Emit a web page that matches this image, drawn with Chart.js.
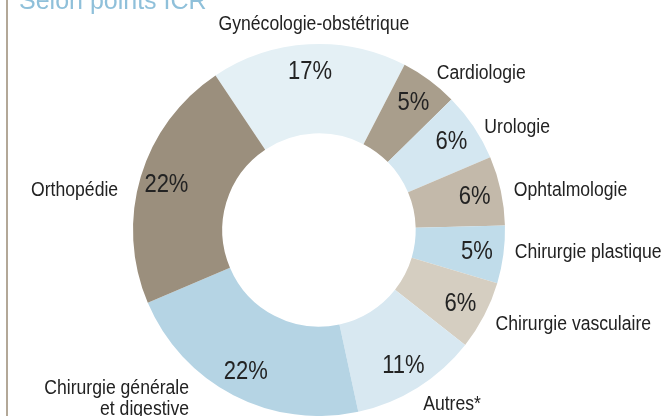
<!DOCTYPE html>
<html>
<head>
<meta charset="utf-8">
<script src="https://cdn.jsdelivr.net/npm/chart.js@4/dist/chart.umd.min.js"></script>
<style>
  html, body { margin: 0; padding: 0; background: #fff; overflow: hidden; }
  #wrap { position: relative; width: 665px; height: 416px; }
  #rule { position: absolute; left: 6px; top: 0; width: 2px; height: 416px; background: #b3a898; }
  canvas { position: absolute; left: 0; top: 0; }
</style>
</head>
<body>
<div id="wrap">
  <div id="rule"></div>
  <canvas id="c" width="665" height="416"></canvas>
</div>
<script>
// Data
const titleText = "Selon points ICR";
const categories = ["Gynécologie-obstétrique", "Cardiologie", "Urologie", "Ophtalmologie", "Chirurgie plastique", "Chirurgie vasculaire", "Autres*", "Chirurgie générale\net digestive", "Orthopédie"];
const values = [17, 5, 6, 6, 5, 6, 11, 22, 22];
const valueLabels = ["17%", "5%", "6%", "6%", "5%", "6%", "11%", "22%", "22%"];

// Styles
const colors = ["#e4f0f5", "#a99e8c", "#d4e7f1", "#c3b9aa", "#c0dcea", "#d5cec1", "#d8e8f1", "#b5d4e4", "#9b8f7d"];
// category label layout: radius (px from center), angle shift (deg), alignment
const catLayout = [
  { r: 207, d: 1.8, a: "center" },
  { r: 197, d: 0.3, a: "left" },
  { r: 195, d: 1.8, a: "left" },
  { r: 199, d: 0.4, a: "left" },
  { r: 197, d: -1.2, a: "left" },
  { r: 200, d: 0.6, a: "left" },
  { r: 219, d: -5.4, a: "center" },
  { r: 212, d: 10.4, a: "right" },
  { r: 205, d: -5.1, a: "right" }
];
const sans = '"Liberation Sans", Arial, Helvetica, sans-serif';

function condText(ctx, t, x, y, sx) {
  ctx.save();
  ctx.translate(x, y);
  ctx.scale(sx, 1);
  ctx.fillText(t, 0, 0);
  ctx.restore();
}

const labelPlugin = {
  id: 'sliceLabels',
  afterDatasetsDraw(chart) {
    const ctx = chart.ctx;
    const arcs = chart.getDatasetMeta(0).data;
    ctx.save();
    // title (partly cut off at the top)
    ctx.textBaseline = 'alphabetic';
    ctx.textAlign = 'left';
    ctx.font = '25px ' + sans;
    ctx.fillStyle = '#8fc0da';
    ctx.fillText(titleText, 19, 9);

    ctx.textBaseline = 'middle';
    arcs.forEach((arc, i) => {
      const p = arc.getProps(['x', 'y', 'startAngle', 'endAngle', 'innerRadius', 'outerRadius'], true);
      const mid = (p.startAngle + p.endAngle) / 2;
      // value label
      const rv = p.innerRadius + 0.7 * (p.outerRadius - p.innerRadius);
      ctx.font = '25px ' + sans;
      ctx.fillStyle = '#232323';
      ctx.textAlign = 'center';
      condText(ctx, valueLabels[i], p.x + Math.cos(mid) * rv, p.y + Math.sin(mid) * rv + 1, 0.88);
      // category label
      const L = catLayout[i];
      const ang = mid + L.d * Math.PI / 180;
      const lx = p.x + Math.cos(ang) * L.r;
      const ly = p.y + Math.sin(ang) * L.r;
      ctx.font = '20px ' + sans;
      ctx.fillStyle = '#222';
      ctx.textAlign = L.a;
      const lines = categories[i].split('\n');
      const lh = 21;
      lines.forEach((t, k) => {
        condText(ctx, t, lx, ly + 1 + (k - (lines.length - 1) / 2) * lh, 0.88);
      });
    });
    ctx.restore();
  }
};

new Chart(document.getElementById('c'), {
  type: 'doughnut',
  data: {
    labels: categories,
    datasets: [{
      data: values,
      backgroundColor: colors,
      borderWidth: 0,
      hoverOffset: 0
    }]
  },
  options: {
    responsive: false,
    animation: false,
    rotation: -33.8,
    cutout: '52%',
    layout: { padding: { top: 44, bottom: 0, left: 133, right: 160 } },
    plugins: { legend: { display: false }, tooltip: { enabled: false } },
    events: []
  },
  plugins: [labelPlugin]
});
</script>
</body>
</html>
